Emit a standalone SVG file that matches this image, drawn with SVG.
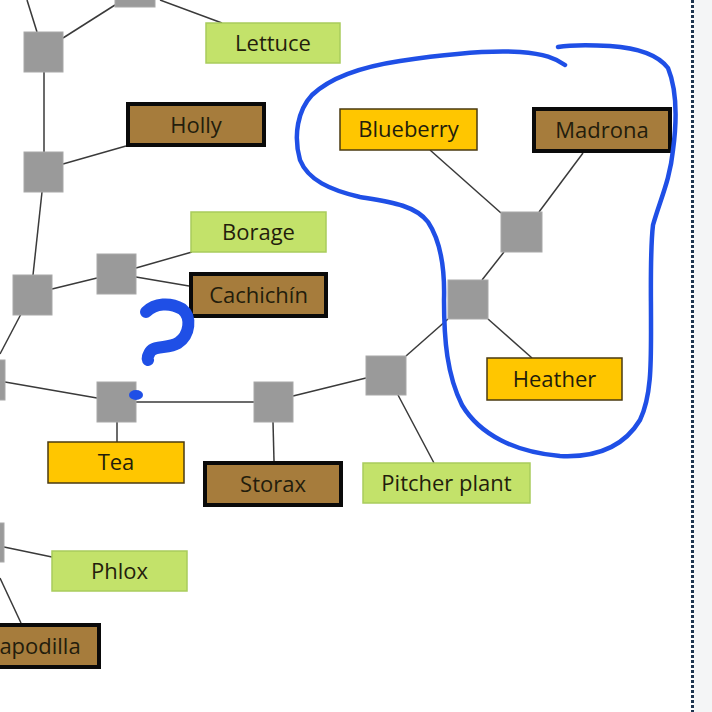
<svg xmlns="http://www.w3.org/2000/svg" width="712" height="712" viewBox="0 0 712 712">
<style>
.j{fill:#9a9a9a;stroke:#a8a8a8;stroke-width:1}
.g{fill:#c3e26a;stroke:#a9cc5c;stroke-width:1.5}
.y{fill:#ffc600;stroke:#4a3a10;stroke-width:1.5}
.b{fill:#a67c3c;stroke:#0a0a0a;stroke-width:4}
.t{font-family:"Open Sans","DejaVu Sans",sans-serif;font-size:22px;fill:#231d0c;text-anchor:middle}
.c line{stroke:#3a3a3a;stroke-width:1.5}
.ink{fill:none;stroke:#1f4fe6;stroke-linecap:round;stroke-linejoin:round}
</style>
<rect x="0" y="0" width="712" height="712" fill="#ffffff"/>
<rect x="694" y="0" width="18" height="712" fill="#f4f5f6"/>
<line x1="692.5" y1="0" x2="692.5" y2="712" stroke="#1e3550" stroke-width="3" stroke-dasharray="3 2"/>
<g class="c" id="connectors">
<line x1="27" y1="0" x2="37" y2="32"/>
<line x1="63" y1="38" x2="115" y2="5"/>
<line x1="160" y1="0" x2="222" y2="23"/>
<line x1="44" y1="72" x2="44" y2="152"/>
<line x1="63" y1="164" x2="126" y2="146"/>
<line x1="42" y1="192" x2="33" y2="275"/>
<line x1="52" y1="289" x2="97" y2="278"/>
<line x1="136" y1="268" x2="192" y2="252"/>
<line x1="136" y1="277" x2="189" y2="286"/>
<line x1="21" y1="314" x2="0" y2="354"/>
<line x1="5" y1="382" x2="97" y2="398"/>
<line x1="136" y1="402" x2="254" y2="402"/>
<line x1="293" y1="396" x2="366" y2="378"/>
<line x1="117" y1="422" x2="117" y2="442"/>
<line x1="273" y1="422" x2="274" y2="461"/>
<line x1="406" y1="356" x2="448" y2="319"/>
<line x1="398" y1="395" x2="434" y2="463"/>
<line x1="488" y1="319" x2="532" y2="358"/>
<line x1="482" y1="280" x2="504" y2="252"/>
<line x1="501" y1="213" x2="430" y2="150"/>
<line x1="539" y1="212" x2="583" y2="153"/>
<line x1="4" y1="547" x2="52" y2="557"/>
<line x1="0" y1="578" x2="21" y2="623"/>
</g>
<g id="j0"><rect class="j" x="115" y="-33" width="40" height="40"/></g>
<g id="j1"><rect class="j" x="24" y="32" width="39" height="40"/></g>
<g id="j2"><rect class="j" x="24" y="152" width="39" height="40"/></g>
<g id="j3"><rect class="j" x="13" y="275" width="39" height="40"/></g>
<g id="j4"><rect class="j" x="97" y="254" width="39" height="40"/></g>
<g id="j5"><rect class="j" x="-35" y="360" width="40" height="40"/></g>
<g id="j6"><rect class="j" x="97" y="382" width="39" height="40"/></g>
<g id="j7"><rect class="j" x="254" y="382" width="39" height="40"/></g>
<g id="j8"><rect class="j" x="366" y="356" width="40" height="39"/></g>
<g id="j9"><rect class="j" x="448" y="280" width="40" height="39"/></g>
<g id="j10"><rect class="j" x="501" y="212" width="41" height="40"/></g>
<g id="j11"><rect class="j" x="-36" y="523" width="40" height="39"/></g>
<g id="lettuce"><rect class="g" x="206" y="23" width="134" height="40"/><text class="t" x="273" y="51">Lettuce</text></g>
<g id="holly"><rect class="b" x="128" y="104" width="136" height="41"/><text class="t" x="196" y="133">Holly</text></g>
<g id="borage"><rect class="g" x="191" y="212" width="135" height="40"/><text class="t" x="258.5" y="240">Borage</text></g>
<g id="cachichin"><rect class="b" x="191" y="274" width="135" height="42"/><text class="t" x="258.5" y="303">Cachichín</text></g>
<g id="tea"><rect class="y" x="48" y="442" width="136" height="41"/><text class="t" x="116" y="470">Tea</text></g>
<g id="storax"><rect class="b" x="205" y="463" width="136" height="42"/><text class="t" x="273" y="492">Storax</text></g>
<g id="phlox"><rect class="g" x="52" y="551" width="135" height="40"/><text class="t" x="119.5" y="579">Phlox</text></g>
<g id="sapodilla"><rect class="b" x="-40" y="625" width="139" height="42"/><text class="t" x="40" y="654">apodilla</text></g>
<g id="blueberry"><rect class="y" x="340" y="109" width="137" height="41"/><text class="t" x="408.5" y="137">Blueberry</text></g>
<g id="madrona"><rect class="b" x="534" y="109" width="136" height="42"/><text class="t" x="602" y="138">Madrona</text></g>
<g id="heather"><rect class="y" x="487" y="358" width="135" height="42"/><text class="t" x="554.5" y="387">Heather</text></g>
<g id="pitcher"><rect class="g" x="363" y="463" width="167" height="40"/><text class="t" x="446.5" y="491">Pitcher plant</text></g>
<g id="annotations">
<path class="ink" stroke-width="4.5" d="M565,65 C555,58 545,54 520,52 C490,50 440,55 400,61 C360,67 330,78 312,95 C298,110 293,135 300,160 C308,180 330,190 360,197 C390,202 415,205 428,222 C440,240 445,265 444,300 C444,340 447,375 462,405 C480,435 515,452 560,456 C600,458 625,445 640,420 C652,395 651,360 651,320 C651,290 650,250 653,225 C660,200 670,180 673,150 C677,120 677,90 668,68 C658,55 640,48 610,46 C590,45 570,45 558,47"/>
<path class="ink" stroke-width="12" d="M146,312 C155,303 170,302 182,309 C192,317 190,335 178,343 C168,349 155,345 150,352 C148,356 147,358 148,360"/>
<ellipse cx="136" cy="395" rx="7" ry="5" fill="#1f4fe6"/>
</g>
</svg>
